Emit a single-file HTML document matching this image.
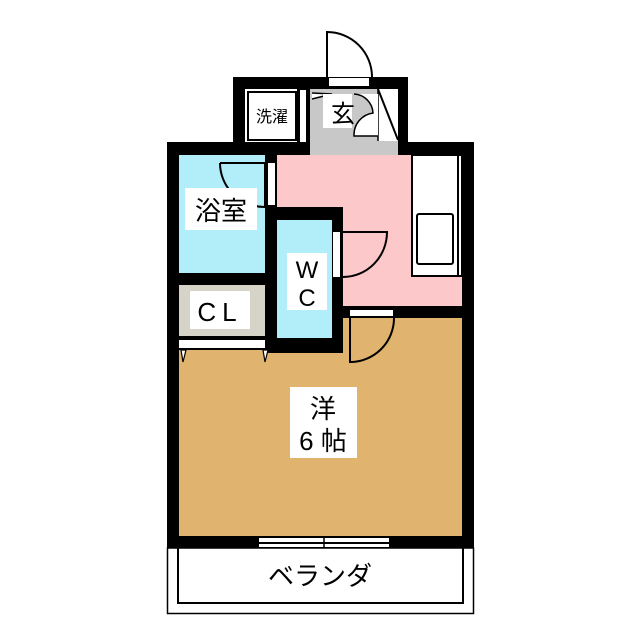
<!DOCTYPE html>
<html><head><meta charset="utf-8"><style>
html,body{margin:0;padding:0;background:#fff}
svg{display:block}
text{font-family:"Liberation Sans","Noto Sans CJK JP",sans-serif;fill:#000}
</style></head><body>
<svg width="640" height="640" viewBox="0 0 640 640" xmlns="http://www.w3.org/2000/svg">
<path d="M327,77 L327,32 A45,45 0 0 1 372,77" fill="none" stroke="#000" stroke-width="2"/>
<rect x="233" y="77" width="175" height="78" fill="#000"/>
<rect x="167" y="142" width="307" height="406" fill="#000"/>
<rect x="329" y="78" width="40" height="8" fill="#fff"/>
<rect x="245" y="89" width="52" height="53" fill="#fff"/>
<rect x="248" y="92" width="48" height="48" fill="#fff" stroke="#000" stroke-width="2"/>
<text x="272" y="122" font-size="16" text-anchor="middle">洗濯</text>
<rect x="300" y="90" width="6" height="52" fill="#fff"/>
<rect x="310" y="89" width="88" height="60" fill="#c8c8c8"/>
<rect x="378" y="89" width="20" height="52" fill="#fff"/>
<line x1="378" y1="89" x2="398" y2="140" stroke="#000" stroke-width="2"/>
<line x1="378" y1="89" x2="378" y2="141" stroke="#000" stroke-width="1.5"/>
<path d="M312,93 L332,94 L312,99" fill="#fff" stroke="#000" stroke-width="1.5"/>
<rect x="323" y="94" width="29" height="34" fill="#fff"/>
<path d="M354,94 L378,94 L378,136 L354,136 A22,22 0 0 1 373,113 A20,20 0 0 0 354,94 Z" fill="#fff"/>
<path d="M354,94 A20,20 0 0 1 373,113 A22,22 0 0 0 354,136 L378,136" fill="none" stroke="#000" stroke-width="1.5"/>
<text x="343" y="122" font-size="24" text-anchor="middle">玄</text>
<rect x="277" y="155" width="185" height="151" fill="#fdc8ca"/>
<rect x="310" y="142" width="88" height="13" fill="#c8c8c8"/>
<rect x="412" y="155" width="50" height="121" fill="#fff" stroke="#000" stroke-width="2"/>
<line x1="458" y1="155" x2="458" y2="276" stroke="#000" stroke-width="2"/>
<rect x="417" y="214" width="36" height="50" rx="2" fill="#fff" stroke="#000" stroke-width="2"/>
<rect x="179" y="155" width="86" height="118" fill="#b2eefa"/>
<rect x="268" y="163" width="7" height="42" fill="#fff"/>
<path d="M220,163 L265,163 L265,207 A45,44 0 0 1 220,163" fill="none" stroke="#000" stroke-width="2"/>
<rect x="185" y="188" width="72" height="42" fill="#fff"/>
<text x="221" y="220" font-size="26" text-anchor="middle">浴室</text>
<rect x="265" y="207" width="78" height="146" fill="#000"/>
<rect x="277" y="220" width="55" height="118" fill="#b2eefa"/>
<rect x="333" y="232" width="7" height="45" fill="#fff"/>
<path d="M343,232 L387,232 A44,45 0 0 1 343,277" fill="none" stroke="#000" stroke-width="2"/>
<rect x="287" y="253" width="40" height="57" fill="#fff"/>
<text x="307" y="278" font-size="24" text-anchor="middle">W</text>
<text x="307" y="306" font-size="24" text-anchor="middle">C</text>
<rect x="179" y="285" width="86" height="51" fill="#d6d3c9"/>
<rect x="190" y="291" width="60" height="38" fill="#fff"/>
<text x="220" y="321" font-size="26" text-anchor="middle" letter-spacing="6">CL</text>
<rect x="179" y="350" width="86" height="186" fill="#e0b46e"/>
<rect x="265" y="353" width="197" height="183" fill="#e0b46e"/>
<rect x="343" y="318" width="119" height="35" fill="#e0b46e"/>
<rect x="179" y="340" width="86" height="8" fill="#fff"/>
<path d="M181,350 L183,362 L186,350 Z M263,350 L265,362 L268,350 Z" fill="#fff" stroke="#000" stroke-width="1.2"/>
<rect x="350" y="310" width="43" height="6" fill="#fff"/>
<path d="M350,318 L350,362 A44,44 0 0 0 394,318" fill="none" stroke="#000" stroke-width="2"/>
<rect x="290" y="387" width="67" height="71" fill="#fff"/>
<text x="323" y="418" font-size="26" text-anchor="middle">洋</text>
<text x="323" y="450" font-size="26" text-anchor="middle">6 帖</text>
<rect x="259" y="538" width="130" height="4" fill="#fff"/>
<rect x="259" y="544" width="130" height="3" fill="#fff"/>
<line x1="324" y1="536" x2="324" y2="549" stroke="#000" stroke-width="1.5"/>
<rect x="167.5" y="548" width="306" height="65.5" fill="#fff" stroke="#000" stroke-width="1.5"/>
<path d="M178,548 L178,603 L463,603 L463,548" fill="none" stroke="#000" stroke-width="2"/>
<text x="320" y="585" font-size="26" text-anchor="middle">ベランダ</text>
</svg>
</body></html>
